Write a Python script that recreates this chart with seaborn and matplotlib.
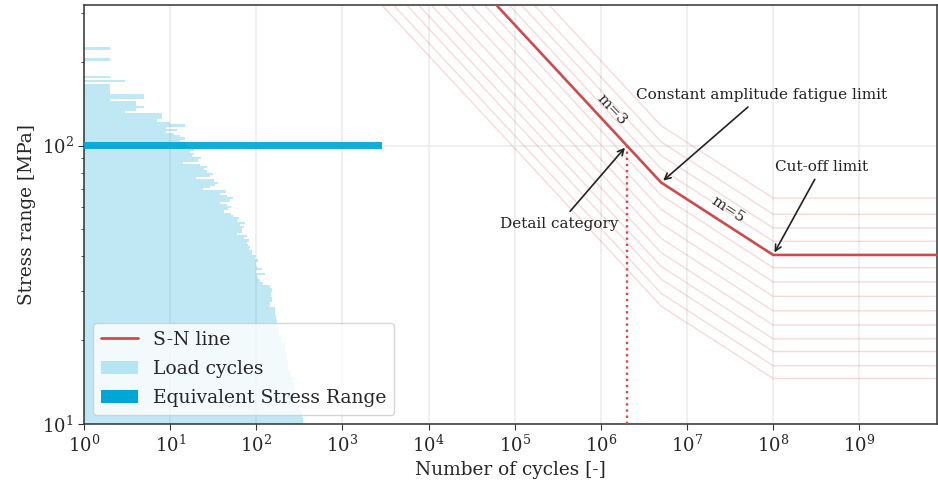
import numpy as np
import pandas as pd
import matplotlib
matplotlib.use("Agg")
import matplotlib.pyplot as plt
import seaborn as sns
from matplotlib.patches import Patch
from matplotlib.lines import Line2D

# ---------------- data ----------------
# Load-cycle histogram: stress range levels [MPa] and number of cycles
stress_levels = [10.2, 10.96, 11.5, 12.2, 12.9, 13.6, 14.4, 15.0, 16.0, 17.7,
                 18.9, 20.1, 21.8, 23.3, 24.1, 25.1, 25.7, 26.8, 27.9, 29.1,
                 30.3, 31.1, 32.2, 32.7, 33.5, 34.1, 34.6, 35.2, 36.1, 36.7,
                 37.3, 37.9, 38.6, 39.5, 40.2, 40.9, 41.6, 42.6, 43.3, 44.0,
                 44.8, 45.5, 46.7, 47.5, 48.3, 49.1, 50.3, 51.1, 52.0, 52.8,
                 53.7, 55.1, 56.0, 56.9, 57.9, 59.3, 60.3, 61.3, 62.4, 63.4,
                 65.0, 66.1, 67.2, 68.3, 70.0, 71.2, 72.4, 73.6, 74.8, 76.7,
                 78.0, 79.3, 80.6, 82.7, 84.0, 85.4, 86.9, 88.3, 90.5, 92.0,
                 93.6, 95.1, 96.7, 99.2, 100.8, 102.5, 104.2, 106.0, 107.8, 110.5,
                 112.3, 114.2, 116.1, 118.0, 121.0, 123.0, 125.1, 127.2, 129.3, 131.5,
                 134.8, 137.0, 140.5, 142.8, 145.2, 148.9, 151.4, 155.1, 157.7, 161.7,
                 164.4, 167.1, 169.9, 172.7, 175.6, 178.5, 200.0, 203.9, 208.0, 219.0,
                 223.4, 228.0]
cycle_counts = [350, 340, 320, 300, 285, 275, 265, 250, 235, 225,
                215, 200, 185, 175, 170, 165, 165, 146, 153, 150,
                153, 146, 121, 111, 105, 101, 127, 99, 117, 101,
                99, 99, 105, 97, 99, 90, 90, 83, 85, 81,
                78, 83, 71, 78, 60, 68, 68, 72, 65, 74,
                60, 63, 53, 51, 42, 47, 51, 46, 38, 50,
                53, 46, 38, 44, 24, 29, 33, 36, 32, 20,
                29, 31, 27, 25, 27, 22, 14, 21, 23, 18,
                19, 17, 19, 17, 16, 15, 13, 15, 13, 11,
                9, 12, 9, 15, 10, 7, 8, 8, 8, 3,
                4, 5, 4, 4, 2, 5, 5, 2, 2, 2,
                2, 0, 3, 0, 2, 0, 0, 2, 0, 0,
                2, 0]

# Equivalent stress range
eq_stress = 100.0
eq_cycles = 2870

# Eurocode detail categories [MPa]
categories = [36, 40, 45, 50, 56, 63, 71, 80, 90, 100, 112, 125, 140, 160]
main_category = 100
N_C = 2e6      # detail category reference
N_D = 5e6      # constant amplitude fatigue limit
N_L = 1e8      # cut-off limit
m1, m2 = 3, 5
N_start, N_end = 1e2, 1e10

x_lim = (1, 8e9)
y_lim = (10, 320)

# ---------------- style ----------------
sns.set_style("white")
plt.rcParams["font.family"] = ["DejaVu Serif"]
plt.rcParams["mathtext.fontset"] = "dejavuserif"

red = "#cf4a4a"
cyan = "#00a6d6"

def sn_curve(dsc):
    sd = dsc * (N_C / N_D) ** (1 / m1)
    sl = sd * (N_D / N_L) ** (1 / m2)
    s0 = dsc * (N_C / N_start) ** (1 / m1)
    return [N_start, N_C, N_D, N_L, N_end], [s0, dsc, sd, sl, sl]

rows = []
for c in categories:
    ns, ss = sn_curve(c)
    for i, (n, s) in enumerate(zip(ns, ss)):
        rows.append({"category": c, "order": i, "N": n, "S": s})
df_sn = pd.DataFrame(rows)

fig, ax = plt.subplots(figsize=(9.38, 4.90), dpi=100)
fig.subplots_adjust(left=0.0896, right=0.999, bottom=0.1347, top=0.99)
ax.set_xscale("log")
ax.set_yscale("log")

# grid
ax.set_axisbelow(True)
ax.grid(True, which="major", color="#ececec", lw=1.2)

# histogram
s = np.array(stress_levels)
mids = np.sqrt(s[:-1] * s[1:])
edges = np.concatenate([[s[0] ** 2 / mids[0]], mids, [s[-1] ** 2 / mids[-1]]])
ax.barh(edges[:-1], cycle_counts, height=np.diff(edges), align="edge",
        color=cyan, alpha=0.25, lw=0, zorder=2)

# equivalent stress range bar
ax.barh([eq_stress], [eq_cycles], height=eq_stress * 0.054, color=cyan,
        alpha=0.92, lw=0, zorder=3)

# S-N lines
df_light = df_sn[df_sn["category"] != main_category]
sns.lineplot(data=df_light, x="N", y="S", units="category", estimator=None,
             sort=False, color=red, alpha=0.2, lw=1.0, ax=ax, zorder=4)
sns.lineplot(data=df_sn[df_sn["category"] == main_category], x="N", y="S",
             estimator=None, sort=False, color=red, lw=1.9, ax=ax, zorder=5)

ax.vlines(N_C, y_lim[0], main_category, colors=red, linestyles=(0, (1, 1.6)),
          lw=1.7, zorder=5)

ax.set_xlim(*x_lim)
ax.set_ylim(*y_lim)

# annotations
arrow = dict(arrowstyle="->", color="#222222", lw=1.2)
sd_main = main_category * (N_C / N_D) ** (1 / m1)
sl_main = sd_main * (N_D / N_L) ** (1 / m2)
ax.annotate("Detail category", xy=(N_C, main_category), xytext=(3.3e5, 52.4),
            ha="center", va="center", fontsize=11, color="#222222",
            arrowprops=arrow, zorder=6)
ax.annotate("Constant amplitude fatigue limit", xy=(N_D, sd_main),
            xytext=(7.4e7, 152), ha="center", va="center", fontsize=11,
            color="#222222", arrowprops=arrow, zorder=6)
ax.annotate("Cut-off limit", xy=(N_L, sl_main), xytext=(3.67e8, 84),
            ha="center", va="center", fontsize=11, color="#222222",
            arrowprops=arrow, zorder=6)
ax.text(1.35e6, 135, "m=3", rotation=-47, ha="center", va="center",
        fontsize=11, color="#222222", rotation_mode="anchor")
ax.text(2.98e7, 58.9, "m=5", rotation=-33, ha="center", va="center",
        fontsize=11, color="#222222", rotation_mode="anchor")

# axes styling
for sp in ax.spines.values():
    sp.set_color("#333333")
    sp.set_linewidth(1.1)
ax.tick_params(axis="both", which="major", labelsize=13, length=4,
               direction="out", left=True, bottom=True, color="#333333")
ax.tick_params(axis="y", which="minor", length=2.5, left=True, color="#333333")
ax.set_xticks([10.0 ** k for k in range(0, 10)])
ax.set_xlabel("Number of cycles [-]", fontsize=13.3)
ax.set_ylabel("Stress range [MPa]", fontsize=13.3)

handles = [Line2D([0], [0], color=red, lw=2),
           Patch(facecolor=cyan, alpha=0.25, lw=0),
           Patch(facecolor=cyan, lw=0)]
labels = ["S-N line", "Load cycles", "Equivalent Stress Range"]
ax.legend(handles, labels, loc="lower left", fontsize=13.5, frameon=True,
          labelspacing=0.6)

fig.savefig("out.png", dpi=100)
